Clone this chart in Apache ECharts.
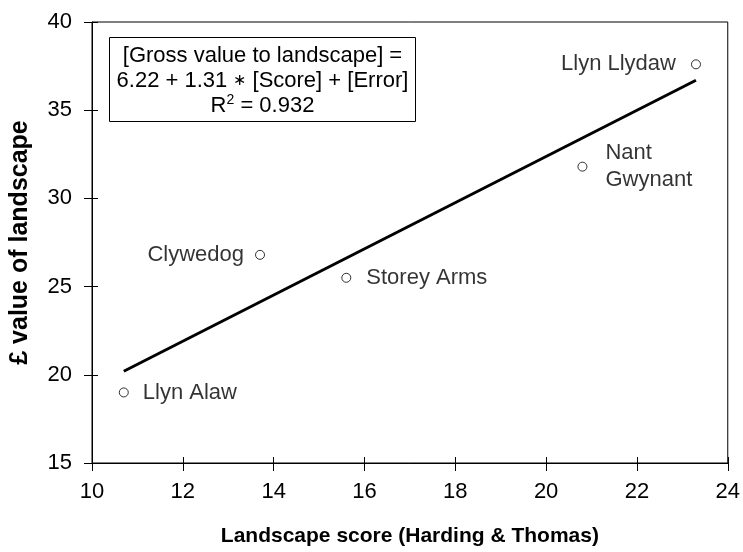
<!DOCTYPE html>
<html>
<head>
<meta charset="utf-8">
<script src="https://cdn.jsdelivr.net/npm/echarts@6/dist/echarts.min.js"></script>
<style>
  html, body { margin: 0; padding: 0; background: #fff; }
  #chart { width: 743px; height: 552px; }
</style>
</head>
<body>
<div id="chart"></div>
<script>
// sites, landscape score and £ value
const sites = ['Llyn Alaw', 'Clywedog', 'Storey Arms', 'Nant\nGwynant', 'Llyn Llydaw'];
const scores = [10.7, 13.7, 15.6, 20.8, 23.3];
const values = [19.0, 26.8, 25.5, 31.8, 37.6];

// fitted line, drawn between the lowest and highest score
const fitX = [10.7, 23.3];
const fitY = [20.2, 36.7];

const xTicks = [10, 12, 14, 16, 18, 20, 22, 24];
const yTicks = [15, 20, 25, 30, 35, 40];

const font = "'Liberation Sans', Arial, sans-serif";

// which side of the point each label sits on
const labelSide = {
  'Llyn Alaw': ['right', 14],
  'Clywedog': ['left', 11],
  'Storey Arms': ['right', 15],
  'Nant\nGwynant': ['right', 18],
  'Llyn Llydaw': ['left', 15]
};

const pointData = sites.map(function (name, i) {
  const side = labelSide[name];
  return {
    name: name,
    value: [scores[i], values[i]],
    label: { position: side[0], distance: side[1] }
  };
});

const fitData = fitX.map(function (x, i) {
  return [x, fitY[i]];
});

const myChart = echarts.init(document.getElementById('chart'));

const baseX = {
  type: 'value',
  min: xTicks[0],
  max: xTicks[xTicks.length - 1],
  interval: 2,
  splitLine: { show: false }
};
const baseY = {
  type: 'value',
  min: yTicks[0],
  max: yTicks[yTicks.length - 1],
  interval: 5,
  splitLine: { show: false }
};

const option = {
  animation: false,
  backgroundColor: '#fff',
  grid: {
    left: 92, right: 13, top: 22, bottom: 89,
    show: true, borderColor: '#000', borderWidth: 1
  },
  xAxis: [
    Object.assign({}, baseX, {
      name: 'Landscape score (Harding & Thomas)',
      nameLocation: 'middle',
      nameGap: 63,
      nameTextStyle: { fontFamily: font, fontSize: 21, fontWeight: 'bold', color: '#000' },
      axisLine: { lineStyle: { color: '#000', width: 1 } },
      axisTick: { length: 8, lineStyle: { color: '#000' } },
      axisLabel: { fontFamily: font, fontSize: 22, color: '#000', margin: 18 }
    }),
    // inner half of the crossing ticks
    Object.assign({}, baseX, {
      position: 'bottom',
      axisLine: { show: false },
      axisTick: { inside: true, length: 6, lineStyle: { color: '#000' } },
      axisLabel: { show: false }
    })
  ],
  yAxis: [
    Object.assign({}, baseY, {
      name: '£ value of landscape',
      nameLocation: 'middle',
      nameGap: 59,
      nameTextStyle: { fontFamily: font, fontSize: 25, fontWeight: 'bold', color: '#000' },
      axisLine: { lineStyle: { color: '#000', width: 1 } },
      axisTick: { length: 8, lineStyle: { color: '#000' } },
      axisLabel: { fontFamily: font, fontSize: 22, color: '#000', margin: 20 }
    }),
    Object.assign({}, baseY, {
      position: 'left',
      axisLine: { show: false },
      axisTick: { inside: true, length: 6, lineStyle: { color: '#000' } },
      axisLabel: { show: false }
    })
  ],
  graphic: [{
    type: 'group',
    left: 109,
    top: 37,
    children: [{
      type: 'rect',
      shape: { x: 0, y: 0, width: 306, height: 84 },
      style: { fill: '#fff', stroke: '#000', lineWidth: 1 }
    }, {
      type: 'text',
      x: 153,
      y: 43,
      style: {
        text: '{n|[Gross value to landscape] =}\n{n|6.22 + 1.31 }{ast|\u2217}{n| [Score] + [Error]}\n{n|R}{sup|2}{n| = 0.932}',
        align: 'center',
        verticalAlign: 'middle',
        fontFamily: font,
        fontSize: 22,
        lineHeight: 25,
        fill: '#000',
        rich: {
          n: { fontFamily: font, fontSize: 22, lineHeight: 25, fill: '#000' },
          ast: { fontFamily: font, fontSize: 16, lineHeight: 25, fill: '#000' },
          sup: { fontFamily: font, fontSize: 14, lineHeight: 25, verticalAlign: 'top', padding: [0, 0, 8, 0], fill: '#000' }
        }
      }
    }]
  }],
  series: [{
    type: 'line',
    data: fitData,
    showSymbol: false,
    lineStyle: { color: '#000', width: 3 },
    z: 2
  }, {
    type: 'scatter',
    data: pointData,
    symbol: 'circle',
    symbolSize: 9,
    itemStyle: { color: '#fff', borderColor: '#000', borderWidth: 1 },
    label: {
      show: true,
      formatter: '{b}',
      fontFamily: font,
      fontSize: 22,
      lineHeight: 27,
      color: '#000'
    },
    z: 3
  }]
};

myChart.setOption(option);
</script>
</body>
</html>
